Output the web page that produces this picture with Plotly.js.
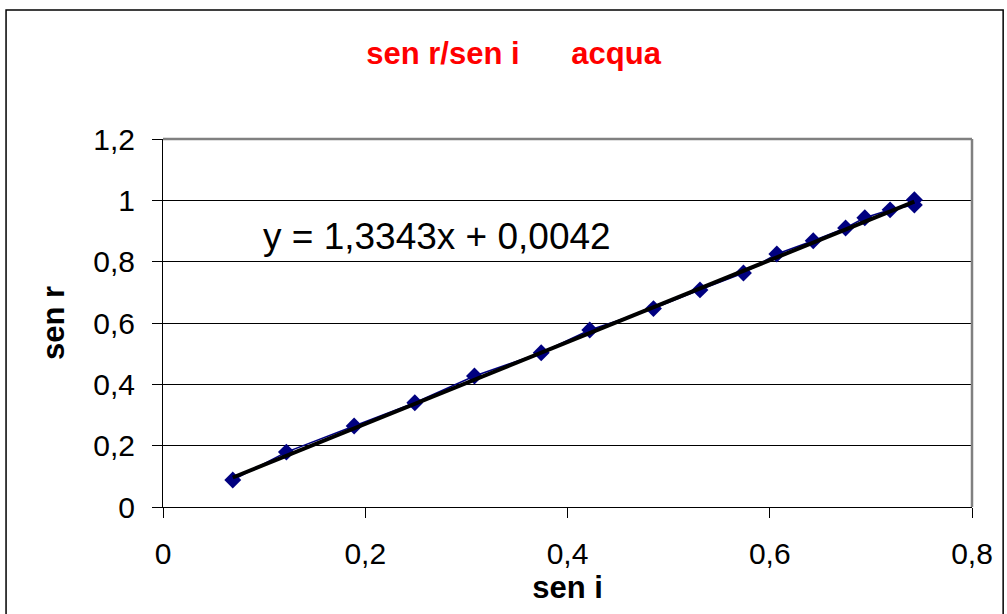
<!DOCTYPE html>
<html>
<head>
<meta charset="utf-8">
<script src="https://cdn.plot.ly/plotly-3.0.1.min.js"></script>
<style>
  html, body { margin: 0; padding: 0; background: #fff; }
  #chart { width: 1007px; height: 614px; }
</style>
</head>
<body>
<div id="chart"></div>
<script>
// Data
const senI = [0.069, 0.122, 0.189, 0.249, 0.308, 0.374, 0.422, 0.485, 0.531, 0.574, 0.607, 0.643, 0.675, 0.694, 0.719, 0.743, 0.743];
const senR = [0.088, 0.179, 0.264, 0.340, 0.427, 0.503, 0.577, 0.647, 0.708, 0.763, 0.825, 0.868, 0.910, 0.943, 0.969, 0.985, 1.002];

// Linear trendline shown on the chart
const trendSlope = 1.3343;
const trendIntercept = 0.0042;
const trendLabel = "y = 1,3343x + 0,0042";

const chartTitle = "sen r/sen i      acqua";
const xTitle = "sen i";
const yTitle = "sen r";

const xMin = Math.min(...senI), xMax = Math.max(...senI);
const trendX = [xMin, xMax];
const trendY = trendX.map(v => trendSlope * v + trendIntercept);

const FONT = "Liberation Sans, Arial, sans-serif";

const traces = [
  {
    x: senI, y: senR, type: "scatter", mode: "lines+markers",
    line: { color: "#000080", width: 1.5 },
    marker: { symbol: "diamond", size: 13, color: "#000080" },
    showlegend: false, hoverinfo: "x+y"
  },
  {
    x: trendX, y: trendY, type: "scatter", mode: "lines",
    line: { color: "#000000", width: 4 },
    showlegend: false, hoverinfo: "skip"
  }
];

const layout = {
  width: 1007, height: 614,
  margin: { l: 163, r: 35, t: 139, b: 107 },
  paper_bgcolor: "#ffffff", plot_bgcolor: "#ffffff",
  separators: ", ",
  font: { family: FONT, color: "#000" },
  title: {
    text: chartTitle,
    font: { family: FONT, size: 31, color: "#ff0000", weight: "bold" },
    xref: "container", yref: "container",
    x: 0.51, xanchor: "center", y: 0.914, yanchor: "middle"
  },
  xaxis: {
    range: [0, 0.8], dtick: 0.2, tick0: 0,
    showgrid: false, zeroline: false,
    showline: true, linecolor: "#000", linewidth: 1,
    ticks: "outside", ticklen: 10, tickcolor: "#000",
    tickfont: { family: FONT, size: 30, color: "#000" },
    ticklabelstandoff: 10,
    title: { text: xTitle, font: { family: FONT, size: 31, weight: "bold" }, standoff: 6 }
  },
  yaxis: {
    range: [0, 1.2], dtick: 0.2, tick0: 0,
    showgrid: true, gridcolor: "#000", gridwidth: 1,
    zeroline: false,
    showline: true, linecolor: "#000", linewidth: 1,
    ticks: "outside", ticklen: 10, tickcolor: "#000",
    tickfont: { family: FONT, size: 30, color: "#000" },
    ticklabelstandoff: 11,
    title: { text: yTitle, font: { family: FONT, size: 31, weight: "bold" }, standoff: 19 }
  },
  annotations: [
    {
      text: trendLabel, xref: "paper", yref: "paper",
      x: 0.339, y: 0.734, xanchor: "center", yanchor: "middle",
      showarrow: false, font: { family: FONT, size: 37, color: "#000" }
    }
  ],
  shapes: [
    { type: "line", xref: "paper", yref: "paper", x0: 0, x1: 1, y0: 1, y1: 1,
      line: { color: "#808080", width: 2.5 }, layer: "above" },
    { type: "line", xref: "paper", yref: "paper", x0: 1, x1: 1, y0: 0, y1: 1,
      line: { color: "#808080", width: 2.5 }, layer: "above" },
    { type: "rect", xref: "paper", yref: "paper",
      x0: -0.194, x1: 1.0385, y0: -0.32, y1: 1.3505,
      line: { color: "#000", width: 1.5 }, layer: "below" }
  ]
};

Plotly.newPlot("chart", traces, layout, { displayModeBar: false, staticPlot: true });
</script>
</body>
</html>
